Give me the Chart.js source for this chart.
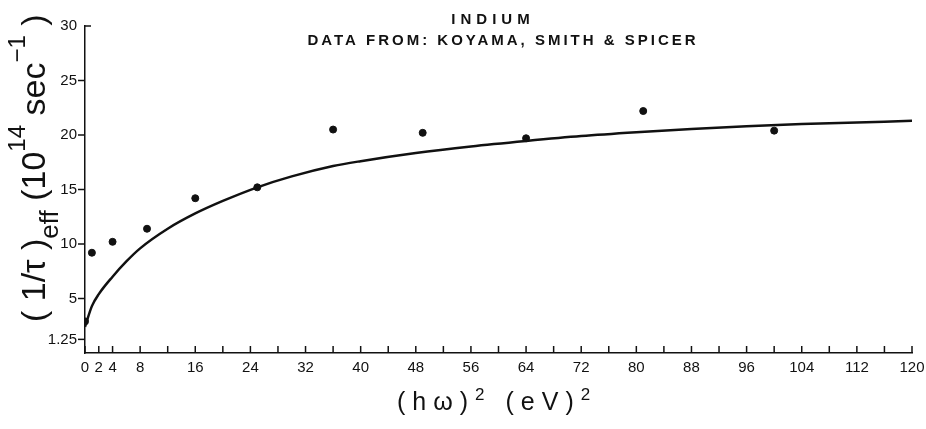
<!DOCTYPE html>
<html>
<head>
<meta charset="utf-8">
<script src="https://cdn.jsdelivr.net/npm/chart.js@4.4.1/dist/chart.umd.min.js"></script>
<style>
  html, body { margin: 0; padding: 0; background: #fff; }
  #wrap { width: 926px; height: 429px; }
</style>
</head>
<body>
<div id="wrap"><canvas id="myChartIndium" width="926" height="429"></canvas></div>
<script>
// measured points, x = (h omega)^2 in eV^2
const POINT_X = [0, 1, 4, 9, 16, 25, 36, 49, 64, 81, 100];
const POINT_Y = [2.9, 9.2, 10.2, 11.4, 14.2, 15.2, 20.5, 20.2, 19.7, 22.2, 20.4];

// the smooth theory curve
const CURVE_X = [0, 1, 2, 4, 6, 8, 12, 16, 20, 25, 30, 36, 40, 48, 56, 64, 72, 80, 88, 96, 104, 112, 120];
const CURVE_Y = [2.4, 4.3, 5.4, 7.0, 8.4, 9.6, 11.4, 12.8, 13.95, 15.2, 16.2, 17.15, 17.6, 18.35, 18.95, 19.45, 19.9, 20.25, 20.55, 20.8, 21.0, 21.15, 21.3];

const X_TICKS = [0, 2, 4, 8, 12, 16, 20, 24, 28, 32, 36, 40, 44, 48, 52, 56, 60, 64, 68, 72, 76, 80, 84, 88, 92, 96, 100, 104, 108, 112, 116, 120];
const X_LABELED = [0, 2, 4, 8, 16, 24, 32, 40, 48, 56, 64, 72, 80, 88, 96, 104, 112, 120];
const Y_TICKS = [1.25, 5, 10, 15, 20, 25, 30];

const TITLE_LINES = ['INDIUM', 'DATA FROM: KOYAMA, SMITH & SPICER'];
const X_TITLE = ['(hω)', '2', ' (eV)', '2'];
const Y_TITLE = ['( 1/τ )', 'eff', ' (10', '14', ' sec', '−1', ' )'];

const FONT = "'Liberation Sans', Arial, sans-serif";
const INK = '#111';

document.addEventListener("DOMContentLoaded", () => {
    const ctx = document.getElementById('myChartIndium').getContext('2d');

    // tick marks: x ticks point up into the plot, y ticks point out to the left
    const tickMarks = {
        id: 'tickMarks',
        afterDraw(chart) {
            const { ctx, scales: { x, y } } = chart;
            ctx.save();
            ctx.strokeStyle = INK;
            ctx.lineWidth = 1.5;
            X_TICKS.forEach(v => {
                const px = x.getPixelForValue(v);
                ctx.beginPath();
                ctx.moveTo(px, y.bottom);
                ctx.lineTo(px, y.bottom - 7);
                ctx.stroke();
            });
            Y_TICKS.forEach(v => {
                const py = y.getPixelForValue(v);
                const len = v === 30 ? 6 : -7;
                ctx.beginPath();
                ctx.moveTo(x.left, py);
                ctx.lineTo(x.left + len, py);
                ctx.stroke();
            });
            ctx.restore();
        }
    };

    // titles drawn in pieces so sub/superscripts and letter spacing match
    const titles = {
        id: 'titles',
        afterDraw(chart) {
            const c = chart.ctx;
            c.save();
            c.fillStyle = INK;
            c.textBaseline = 'alphabetic';

            c.textAlign = 'center';
            c.font = `bold 15px ${FONT}`;
            c.letterSpacing = '5px';
            c.fillText(TITLE_LINES[0], 493, 24);
            c.letterSpacing = '3px';
            c.fillText(TITLE_LINES[1], 503, 45);

            // x axis title
            c.textAlign = 'left';
            c.letterSpacing = '7px';
            const xStyle = [[25, 0], [17, -10], [25, 0], [17, -10]];
            let xPos = 397;
            X_TITLE.forEach((t, i) => {
                c.font = `${xStyle[i][0]}px ${FONT}`;
                c.fillText(t, xPos, 410 + xStyle[i][1]);
                xPos += c.measureText(t).width;
            });

            // y axis title, rotated, reading bottom to top
            c.letterSpacing = '0px';
            c.translate(45, 322);
            c.rotate(-Math.PI / 2);
            const yStyle = [[34, 0], [26, 13], [34, 0], [24, -20], [34, 0], [24, -20], [34, 0]];
            let yPos = 0;
            Y_TITLE.forEach((t, i) => {
                c.font = `${yStyle[i][0]}px ${FONT}`;
                c.fillText(t, yPos, yStyle[i][1]);
                yPos += c.measureText(t).width;
            });
            c.restore();
        }
    };

    new Chart(ctx, {
        data: {
            datasets: [
                {
                    type: 'line',
                    label: 'Theory',
                    data: CURVE_X.map((x, i) => ({ x, y: CURVE_Y[i] })),
                    borderColor: INK,
                    borderWidth: 2.5,
                    pointRadius: 0,
                    cubicInterpolationMode: 'monotone',
                    fill: false
                },
                {
                    type: 'scatter',
                    label: 'Koyama, Smith & Spicer',
                    data: POINT_X.map((x, i) => ({ x, y: POINT_Y[i] })),
                    backgroundColor: INK,
                    borderColor: INK,
                    pointRadius: 3.5,
                    pointHoverRadius: 3.5
                }
            ]
        },
        options: {
            responsive: false,
            animation: false,
            layout: { padding: { top: 26, right: 14, bottom: 0, left: 0 } },
            plugins: {
                legend: { display: false },
                title: { display: false },
                tooltip: { enabled: false }
            },
            scales: {
                x: {
                    type: 'linear',
                    min: 0,
                    max: 120,
                    afterBuildTicks: s => { s.ticks = X_TICKS.map(v => ({ value: v })); },
                    afterFit: s => { s.height = 76; s.paddingRight = 0; },
                    ticks: {
                        autoSkip: false,
                        maxRotation: 0,
                        padding: 6,
                        color: INK,
                        font: { family: FONT, size: 15 },
                        callback: v => X_LABELED.includes(v) ? String(v) : ''
                    },
                    grid: { drawOnChartArea: false, drawTicks: false },
                    border: { color: INK, width: 1.5 }
                },
                y: {
                    type: 'linear',
                    min: 0,
                    max: 30,
                    afterBuildTicks: s => { s.ticks = Y_TICKS.map(v => ({ value: v })); },
                    afterFit: s => { s.width = 85; },
                    ticks: {
                        padding: 8,
                        color: INK,
                        font: { family: FONT, size: 15 },
                        callback: v => String(v)
                    },
                    grid: { drawOnChartArea: false, drawTicks: false },
                    border: { color: INK, width: 1.5 }
                }
            }
        },
        plugins: [tickMarks, titles]
    });
});
</script>
</body>
</html>
